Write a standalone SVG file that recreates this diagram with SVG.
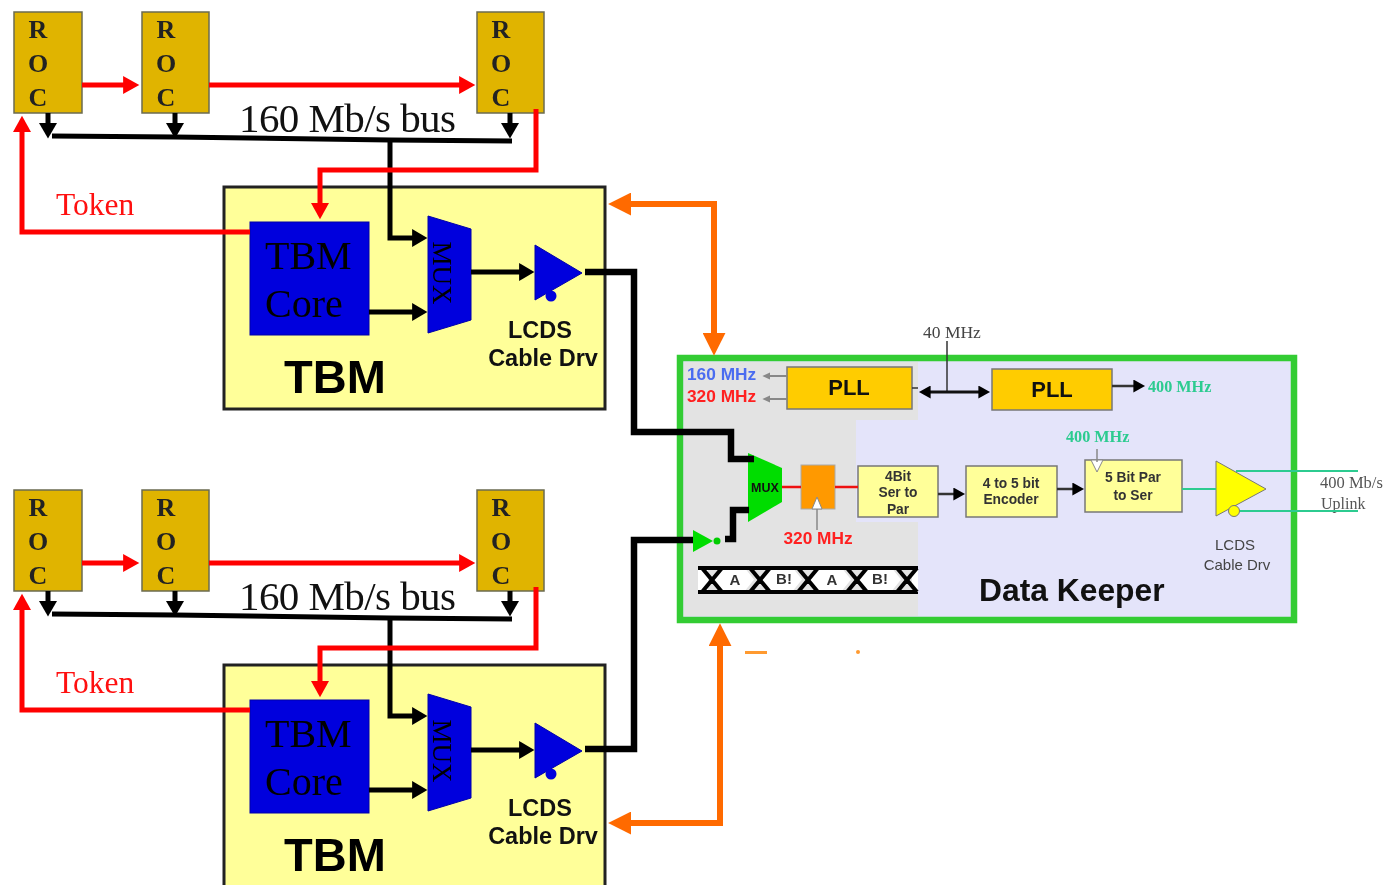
<svg xmlns="http://www.w3.org/2000/svg" width="1386" height="885" viewBox="0 0 1386 885">
<defs>
<filter id="soft" x="0" y="0" width="100%" height="100%" color-interpolation-filters="sRGB"><feGaussianBlur stdDeviation="0.75"/></filter>
<marker id="ar" viewBox="0 0 10 10" refX="0.5" refY="5" markerUnits="userSpaceOnUse" markerWidth="18" markerHeight="18" orient="auto"><path d="M0 0L9 5L0 10Z" fill="#ff0000"/></marker>
<marker id="ak" viewBox="0 0 10 10" refX="0.5" refY="5" markerUnits="userSpaceOnUse" markerWidth="18" markerHeight="18" orient="auto"><path d="M0 0L8.5 5L0 10Z" fill="#000"/></marker>
<marker id="as" viewBox="0 0 10 10" refX="0.5" refY="5" markerUnits="userSpaceOnUse" markerWidth="13" markerHeight="13" orient="auto-start-reverse"><path d="M0 0L9 5L0 10Z" fill="#000"/></marker>
<marker id="ao" viewBox="0 0 10 10" refX="0.5" refY="5" markerUnits="userSpaceOnUse" markerWidth="23" markerHeight="23" orient="auto-start-reverse"><path d="M0 0L10 5L0 10Z" fill="#ff6a00"/></marker>
<marker id="ag" viewBox="0 0 10 10" refX="0.5" refY="5" markerUnits="userSpaceOnUse" markerWidth="9" markerHeight="9" orient="auto"><path d="M0 1L9 5L0 9Z" fill="#888"/></marker>
</defs>
<style>
.roc{fill:#e0b400;stroke:#6b6b50;stroke-width:1.5}
.rl{font:bold 26px "Liberation Serif",serif;fill:#222;text-anchor:middle}
.tbm{fill:#ffff99;stroke:#222;stroke-width:3}
.blue{fill:#0000dd;stroke:#0000aa;stroke-width:1}
.ser{font-family:"Liberation Serif",serif}
.san{font-family:"Liberation Sans",Arial,sans-serif}
.lc{font:bold 23.5px "Liberation Sans",Arial,sans-serif;fill:#111;text-anchor:middle}
.box{fill:#ffff99;stroke:#777;stroke-width:1.5}
.pll{fill:#ffcc00;stroke:#777;stroke-width:1.5}
.pt{font:bold 22px "Liberation Sans",Arial,sans-serif;fill:#111;text-anchor:middle}
.bt{font:bold 13.8px "Liberation Sans",Arial,sans-serif;fill:#333;text-anchor:middle}
.gr{font:bold 16.2px "Liberation Serif",serif;fill:#2ccb90}
.mh{font:bold 17.3px "Liberation Sans",Arial,sans-serif}
.et{font:bold 15px "Liberation Sans",Arial,sans-serif;fill:#333;text-anchor:middle}
.r{fill:none;stroke:#ff0000;stroke-width:5}
.k{fill:none;stroke:#000;stroke-width:5}
.kt{fill:none;stroke:#000;stroke-width:6.5}
.o{fill:none;stroke:#ff6a00;stroke-width:6}
.g{fill:none;stroke:#888;stroke-width:2}
.t{fill:none;stroke:#2ccb90;stroke-width:1.8}
.x{fill:none;stroke:#000;stroke-width:4}
</style>
<g filter="url(#soft)">
<rect x="0" y="0" width="1386" height="885" fill="#fff"/>

<g id="roc-a1"><rect class="roc" x="14" y="12" width="68" height="101"/><text class="rl" x="38" y="38">R</text><text class="rl" x="38" y="72">O</text><text class="rl" x="38" y="106">C</text></g>
<g id="roc-a2"><rect class="roc" x="142" y="12" width="67" height="101"/><text class="rl" x="166" y="38">R</text><text class="rl" x="166" y="72">O</text><text class="rl" x="166" y="106">C</text></g>
<g id="roc-a3"><rect class="roc" x="477" y="12" width="67" height="101"/><text class="rl" x="501" y="38">R</text><text class="rl" x="501" y="72">O</text><text class="rl" x="501" y="106">C</text></g>
<g id="tbm-a"><rect class="tbm" x="224" y="187" width="381" height="222"/><text class="san" x="284" y="393" font-size="47" font-weight="bold" fill="#000">TBM</text></g>
<g id="core-a"><rect class="blue" x="250" y="222" width="119" height="113"/><text class="ser" x="265" y="269" font-size="40" fill="#000">TBM</text><text class="ser" x="265" y="317" font-size="40" fill="#000">Core</text></g>
<g id="mux-a"><path class="blue" d="M428 216L471 229V320L428 333Z"/><text class="ser" x="0" y="0" font-size="27" fill="#000" text-anchor="middle" transform="translate(433 273) rotate(90)">MUX</text></g>
<g id="drv-a"><path class="blue" d="M535 245L582 273L535 300Z"/><circle cx="551" cy="296" r="5.5" fill="#0000dd"/><text class="lc" x="540" y="338">LCDS</text><text class="lc" x="543" y="366">Cable Drv</text></g>
<text class="ser" x="239" y="132" font-size="41" fill="#111" textLength="217">160 Mb/s bus</text>
<text class="ser" x="56" y="215" font-size="31.5" fill="#ff1010">Token</text>

<g id="roc-b1"><rect class="roc" x="14" y="490" width="68" height="101"/><text class="rl" x="38" y="516">R</text><text class="rl" x="38" y="550">O</text><text class="rl" x="38" y="584">C</text></g>
<g id="roc-b2"><rect class="roc" x="142" y="490" width="67" height="101"/><text class="rl" x="166" y="516">R</text><text class="rl" x="166" y="550">O</text><text class="rl" x="166" y="584">C</text></g>
<g id="roc-b3"><rect class="roc" x="477" y="490" width="67" height="101"/><text class="rl" x="501" y="516">R</text><text class="rl" x="501" y="550">O</text><text class="rl" x="501" y="584">C</text></g>
<g id="tbm-b"><rect class="tbm" x="224" y="665" width="381" height="222"/><text class="san" x="284" y="871" font-size="47" font-weight="bold" fill="#000">TBM</text></g>
<g id="core-b"><rect class="blue" x="250" y="700" width="119" height="113"/><text class="ser" x="265" y="747" font-size="40" fill="#000">TBM</text><text class="ser" x="265" y="795" font-size="40" fill="#000">Core</text></g>
<g id="mux-b"><path class="blue" d="M428 694L471 707V798L428 811Z"/><text class="ser" x="0" y="0" font-size="27" fill="#000" text-anchor="middle" transform="translate(433 751) rotate(90)">MUX</text></g>
<g id="drv-b"><path class="blue" d="M535 723L582 751L535 778Z"/><circle cx="551" cy="774" r="5.5" fill="#0000dd"/><text class="lc" x="540" y="816">LCDS</text><text class="lc" x="543" y="844">Cable Drv</text></g>
<text class="ser" x="239" y="610" font-size="41" fill="#111" textLength="217">160 Mb/s bus</text>
<text class="ser" x="56" y="693" font-size="31.5" fill="#ff1010">Token</text>

<g id="data-keeper">
<rect x="680" y="358" width="614" height="262" fill="#e4e4fa" stroke="#33cc33" stroke-width="6.5"/>
<path d="M684 362H918V420H856V522H918V616H684Z" fill="#e3e3e3"/>
<text class="san" x="979" y="601" font-size="31.8" font-weight="bold" fill="#111">Data Keeper</text>
</g>
<g id="pll-1"><rect class="pll" x="787" y="367" width="125" height="42"/><text class="pt" x="849" y="395">PLL</text></g>
<g id="pll-2"><rect class="pll" x="992" y="369" width="120" height="41"/><text class="pt" x="1052" y="397">PLL</text></g>
<text class="mh" x="687" y="380" fill="#4a6cf0">160 MHz</text>
<text class="mh" x="687" y="402" fill="#ff2020">320 MHz</text>
<text class="ser" x="923" y="338" font-size="17.5" fill="#444">40 MHz</text>
<text class="gr" x="1148" y="392">400 MHz</text>
<text class="gr" x="1066" y="442">400 MHz</text>
<g id="mux-dk"><path d="M748 453L782 468V502L748 522Z" fill="#00dd00"/><text x="765" y="492" class="san" font-size="12.5" font-weight="bold" fill="#111" text-anchor="middle">MUX</text></g>
<g id="ff"><rect x="801" y="465" width="34" height="44" fill="#ff9900" stroke="#aaa" stroke-width="1"/><path d="M812 509L817 497L822 509Z" fill="#fff" stroke="#888"/></g>
<text class="mh" x="818" y="544" fill="#ff2020" text-anchor="middle">320 MHz</text>
<g id="ser-par"><rect class="box" x="858" y="466" width="80" height="51"/><text class="bt" x="898" y="481">4Bit</text><text class="bt" x="898" y="497">Ser to</text><text class="bt" x="898" y="514">Par</text></g>
<g id="encoder"><rect class="box" x="966" y="466" width="91" height="51"/><text class="bt" x="1011" y="488">4 to 5 bit</text><text class="bt" x="1011" y="504">Encoder</text></g>
<g id="par-ser"><rect class="box" x="1085" y="460" width="97" height="52"/><text class="bt" x="1133" y="482">5 Bit Par</text><text class="bt" x="1133" y="500">to Ser</text><path d="M1091 460H1103L1097 472Z" fill="#fff" stroke="#888"/></g>
<g id="drv-dk"><path d="M1216 461L1266 489L1216 516Z" fill="#ffff00" stroke="#777"/><circle cx="1234" cy="511" r="5.5" fill="#ffff00" stroke="#777"/><text class="san" x="1235" y="550" font-size="15" fill="#444" text-anchor="middle">LCDS</text><text class="san" x="1237" y="570" font-size="15" fill="#444" text-anchor="middle">Cable Drv</text></g>
<g id="inverter"><path d="M693 530L713 541L693 552Z" fill="#00dd00"/><circle cx="717" cy="541" r="3.5" fill="#00cc00"/></g>
<g id="eye">
<path d="M722 567H744L754 579.5L744 592H722L712 579.5ZM770 567H792L802 579.5L792 592H770L760 579.5ZM818 567H841L851 579.5L841 592H818L808 579.5ZM867 567H891L901 579.5L891 592H867L857 579.5ZM698 567H708L708 592H698ZM912 567H918V592H912Z" fill="#fff"/>
<path class="x" d="M698 568H918M698 592H918M702 568L722 592M702 592L722 568M750 568L770 592M750 592L770 568M798 568L818 592M798 592L818 568M847 568L867 592M847 592L867 568M897 568L917 592M897 592L917 568"/>
<text class="et" x="735" y="585">A</text><text class="et" x="784" y="584">B!</text><text class="et" x="832" y="585">A</text><text class="et" x="880" y="584">B!</text>
</g>
<text class="ser" x="1320" y="488" font-size="16.5" fill="#555">400 Mb/s</text>
<text class="ser" x="1321" y="509" font-size="16" fill="#555">Uplink</text>
<rect x="745" y="651" width="22" height="3" fill="#ff9a30"/><circle cx="858" cy="652" r="2" fill="#ff9a30"/>

<g id="connectors">
<g id="links-a">
<path class="r" d="M82 85H124" marker-end="url(#ar)"/>
<path class="r" d="M209 85H460" marker-end="url(#ar)"/>
<path class="k" d="M48 113V124" marker-end="url(#ak)"/>
<path class="k" d="M175 113V124" marker-end="url(#ak)"/>
<path class="k" d="M510 113V124" marker-end="url(#ak)"/>
<path class="k" d="M52 136L175 137L390 140L512 141"/>
<path class="k" d="M390 140V238H413" marker-end="url(#ak)"/>
<path class="k" d="M369 312H413" marker-end="url(#ak)"/>
<path class="k" d="M471 272H520" marker-end="url(#ak)"/>
<path class="r" d="M536 109V170H320V204" marker-end="url(#ar)"/>
<path class="r" d="M250 232H22V131" marker-end="url(#ar)"/>
</g>
<g id="links-b">
<path class="r" d="M82 563H124" marker-end="url(#ar)"/>
<path class="r" d="M209 563H460" marker-end="url(#ar)"/>
<path class="k" d="M48 591V602" marker-end="url(#ak)"/>
<path class="k" d="M175 591V602" marker-end="url(#ak)"/>
<path class="k" d="M510 591V602" marker-end="url(#ak)"/>
<path class="k" d="M52 614L175 615L390 618L512 619"/>
<path class="k" d="M390 618V716H413" marker-end="url(#ak)"/>
<path class="k" d="M369 790H413" marker-end="url(#ak)"/>
<path class="k" d="M471 750H520" marker-end="url(#ak)"/>
<path class="r" d="M536 587V648H320V682" marker-end="url(#ar)"/>
<path class="r" d="M250 710H22V609" marker-end="url(#ar)"/>
</g>
<path class="kt" d="M585 272H634V432H731V459H754"/>
<path class="kt" d="M585 749H634V540H693"/>
<path class="kt" d="M725 539H733V510H749"/>
<path class="o" d="M714 334V204H630" marker-start="url(#ao)" marker-end="url(#ao)"/>
<path class="o" d="M720 645V823H630" marker-start="url(#ao)" marker-end="url(#ao)"/>
<path class="g" d="M787 376H770" marker-end="url(#ag)"/>
<path class="g" d="M787 399H770" marker-end="url(#ag)"/>
<path d="M947 341V392" fill="none" stroke="#333" stroke-width="1.5"/>
<path d="M930 392H979" fill="none" stroke="#111" stroke-width="3" marker-start="url(#as)" marker-end="url(#as)"/>
<path d="M912 388H918" fill="none" stroke="#333" stroke-width="1.5"/>
<path d="M1112 386H1134" fill="none" stroke="#333" stroke-width="2.5" marker-end="url(#as)"/>
<path d="M938 494H954" fill="none" stroke="#333" stroke-width="2.5" marker-end="url(#as)"/>
<path d="M1057 489H1073" fill="none" stroke="#333" stroke-width="2.5" marker-end="url(#as)"/>
<path d="M782 487H801M835 487H858" fill="none" stroke="#ee1111" stroke-width="2.5"/>
<path class="g" d="M817 509V530" style="stroke-width:1.5"/>
<path class="g" d="M1097 449V462" style="stroke-width:1.5"/>
<path class="t" d="M1182 489H1216M1236 471H1358M1240 511H1358"/>
</g>
</g>
</svg>
